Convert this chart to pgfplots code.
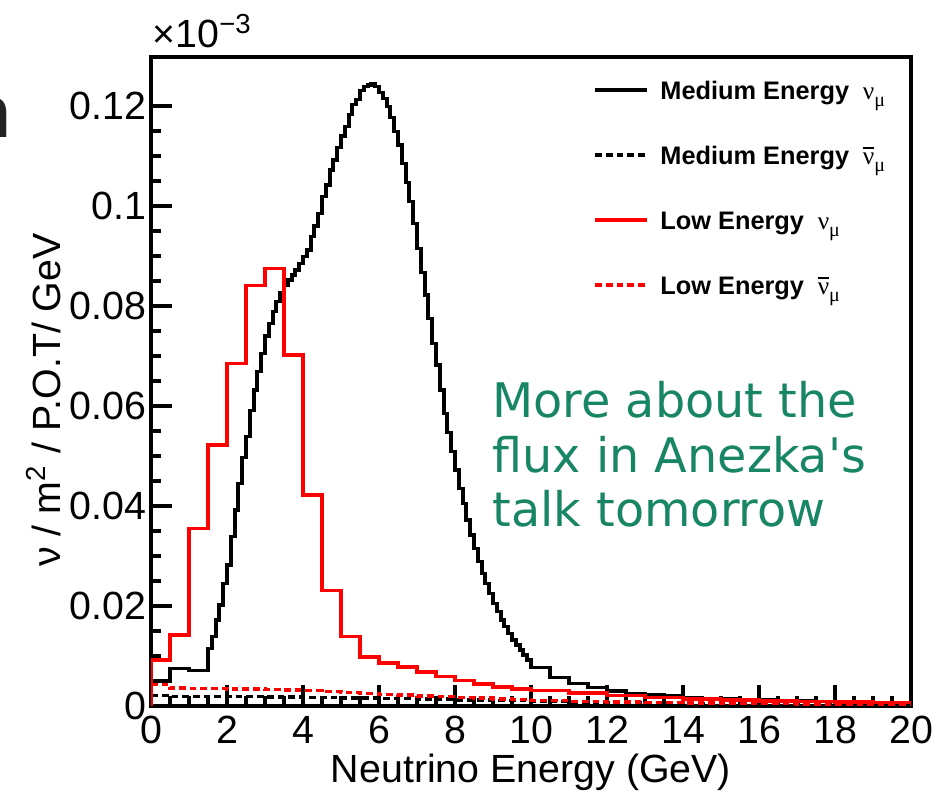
\documentclass[border=0pt]{standalone}
\usepackage{fontspec}
\setmainfont{Liberation Sans}
\newfontfamily\serif{Liberation Serif}
\newfontfamily\dejavu{DejaVu Sans}
\usepackage{pgfplots}
\pgfplotsset{compat=1.18}
\definecolor{notegreen}{RGB}{24,134,100}

\newcommand{\numu}{{\mdseries\serif ν}\raisebox{-2pt}{\fontsize{6}{6}\selectfont\mdseries\serif μ}}
\newcommand{\numubar}{{\mdseries\serif $\overline{\hbox{\serif ν}}$}\raisebox{-2pt}{\fontsize{6}{6}\selectfont\mdseries\serif μ}}

\begin{document}
\begin{tikzpicture}
\useasboundingbox (-45.3pt,-26.4pt) rectangle (237.6pt,211.8pt);
\clip (-45.3pt,-26.4pt) rectangle (237.6pt,211.8pt);
\begin{axis}[
  at={(0,0)}, anchor=south west,
  scale only axis,
  width=228pt, height=194.7pt,
  xmin=0, xmax=20, ymin=0, ymax=0.1298,
  xtick={0,2,...,20},
  ytick={0,0.02,0.04,0.06,0.08,0.1,0.12},
  yticklabels={0,0.02,0.04,0.06,0.08,0.1,0.12},
  scaled y ticks=false,
  minor x tick num=3, minor y tick num=3,
  xtick pos=bottom, ytick pos=left,
  tick align=inside,
  major tick length=6.2pt, minor tick length=3pt,
  every tick/.style={black, line width=1pt},
  axis line style={line width=1.1pt},
  /pgf/number format/assume math mode=true,
  tick label style={font=\fontsize{11.8}{14}\selectfont},
  yticklabel style={inner sep=1.3pt},
  xticklabel style={inner sep=2.8pt},
  legend image code/.code={\draw[#1] (0pt,0pt) -- (15.5pt,0pt);},
  legend style={at={(rel axis cs:0.582,0.9706)}, anchor=north west,
    draw=none, fill=none, inner sep=0pt, outer sep=0pt,
    row sep=11.1pt, column sep=3.5pt,
    font=\fontsize{7.6}{9}\selectfont\bfseries,
    nodes={inner sep=0pt, text height=7pt, text depth=1.4pt, anchor=west}},
]
% Medium energy nu_mu
\addplot[black, line width=1.15pt, const plot] coordinates {
(0,0) (0,0.0050) (0.5,0.0075) (1.0,0.0071)
(1.5,0.0115) (1.6,0.0139) (1.7,0.0172) (1.8,0.0202) (1.9,0.0245)
(2.0,0.0282) (2.1,0.0339) (2.2,0.0392) (2.3,0.0445) (2.4,0.0497)
(2.5,0.0539) (2.6,0.0591) (2.7,0.0632) (2.8,0.0669) (2.9,0.0705)
(3.0,0.0740) (3.1,0.0765) (3.2,0.0789) (3.3,0.0809) (3.4,0.0827)
(3.5,0.0842) (3.6,0.0852) (3.7,0.0862) (3.8,0.0872) (3.9,0.0885)
(4.0,0.0899) (4.1,0.0912) (4.2,0.0939) (4.3,0.0960) (4.4,0.0985)
(4.5,0.1019) (4.6,0.1042) (4.7,0.1072) (4.8,0.1092) (4.9,0.1117)
(5.0,0.1140) (5.1,0.1159) (5.2,0.1183) (5.3,0.1203) (5.4,0.1213)
(5.5,0.1231) (5.6,0.1239) (5.7,0.1242) (5.8,0.1244) (5.9,0.1239)
(6.0,0.1227) (6.1,0.1215) (6.2,0.1199) (6.3,0.1177) (6.4,0.1149)
(6.5,0.1122) (6.6,0.1085) (6.7,0.1047) (6.8,0.1009) (6.9,0.0965)
(7.0,0.0915) (7.1,0.0867) (7.2,0.0822) (7.3,0.0775) (7.4,0.0725)
(7.5,0.0682) (7.6,0.0632) (7.7,0.0585) (7.8,0.0547) (7.9,0.0509)
(8.0,0.0472) (8.1,0.0435) (8.2,0.0405) (8.3,0.0372) (8.4,0.0342)
(8.5,0.0315) (8.6,0.0289) (8.7,0.0265) (8.8,0.0245) (8.9,0.0225)
(9.0,0.0205) (9.1,0.0189) (9.2,0.0172) (9.3,0.0159) (9.4,0.0145)
(9.5,0.0132) (9.6,0.0122) (9.7,0.0112) (9.8,0.0102) (9.9,0.0092)
(10.0,0.0077) (10.5,0.0057) (11.0,0.0045) (11.5,0.0037) (12.0,0.0030)
(12.5,0.0025) (13.0,0.0022) (13.5,0.0020) (14.0,0.0017) (14.5,0.0015)
(15.0,0.0014) (15.5,0.0013) (16.0,0.0012) (16.5,0.0011) (17.0,0.0010)
(17.5,0.0009) (18.0,0.0008) (18.5,0.0007) (19.0,0.0007) (19.5,0.0006)
(20,0.0006)
};
\addlegendentry{Medium Energy\hspace{2pt} \numu}
% Medium energy anti-nu_mu
\addplot[black, line width=1.15pt, dash pattern=on 2pt off 1.2pt, const plot] coordinates {
(0,0) (0,0.0021) (0.5,0.0019) (1,0.0019) (2,0.0019) (3,0.0018) (4,0.0017)
(5,0.0016) (6,0.0015) (7,0.0014) (8,0.0012) (9,0.0011) (10,0.0009)
(11,0.0008) (12,0.0007) (13,0.0006) (14,0.0005) (15,0.0004) (16,0.0004)
(17,0.0003) (18,0.0003) (19,0.0003) (20,0.0003)
};
\addlegendentry{Medium Energy\hspace{2pt} \numubar}
% Low energy nu_mu
\addplot[red, line width=1.15pt, const plot] coordinates {
(0,0) (0,0.0092) (0.5,0.0142) (1,0.0355) (1.5,0.0522) (2,0.0685) (2.5,0.0841)
(3,0.0875) (3.5,0.0702) (4,0.0422) (4.5,0.0231) (5,0.0139) (5.5,0.0098)
(6,0.0086) (6.5,0.0078) (7,0.0068) (7.5,0.0059) (8,0.0051) (8.5,0.0044)
(9,0.0038) (9.5,0.0034) (10,0.0031) (11,0.0026) (12,0.0021) (13,0.0017)
(14,0.0014) (15,0.0012) (16,0.0010) (17,0.0009) (18,0.0008) (19,0.0007)
(20,0.0007)
};
\addlegendentry{Low Energy\hspace{2pt} \numu}
% Low energy anti-nu_mu
\addplot[red, line width=1.15pt, dash pattern=on 2pt off 1.2pt, const plot] coordinates {
(0,0) (0,0.0043) (0.5,0.0036) (1,0.0035) (1.5,0.0035) (2,0.0034) (2.5,0.0034)
(3,0.0033) (3.5,0.0032) (4,0.0031) (4.5,0.0029) (5,0.0027) (5.5,0.0025)
(6,0.0023) (6.5,0.0022) (7,0.0020) (7.5,0.0019) (8,0.0017) (8.5,0.0016)
(9,0.0014) (9.5,0.0013) (10,0.0011) (11,0.0009) (12,0.0008) (13,0.0007)
(14,0.0006) (15,0.0005) (16,0.0005) (17,0.0004) (18,0.0004) (19,0.0003)
(20,0.0003)
};
\addlegendentry{Low Energy\hspace{2pt} \numubar}
\end{axis}

% axis titles
\node[anchor=base, font=\fontsize{11.8}{14}\selectfont] at (114pt,-22.8pt) {Neutrino Energy (GeV)};
\node[anchor=base, rotate=90, font=\fontsize{11.8}{14}\selectfont] at (-27.3pt,91.8pt)
  {ν / m\textsuperscript{2} / P.O.T/ GeV};
\node[anchor=base west, inner sep=0pt, font=\fontsize{11.8}{14}\selectfont] at (0.3pt,197.4pt)
  {×10\textsuperscript{−3}};

% slide annotation
\node[anchor=base west, inner sep=0pt, text=notegreen, font=\dejavu\fontsize{14.3}{16.5}\selectfont] at (102.3pt,86.7pt) {More about the};
\node[anchor=base west, inner sep=0pt, text=notegreen, font=\dejavu\fontsize{14.3}{16.5}\selectfont] at (102.3pt,70.2pt) {flux in Anezka's};
\node[anchor=base west, inner sep=0pt, text=notegreen, font=\dejavu\fontsize{14.3}{16.5}\selectfont] at (102.3pt,54.0pt) {talk tomorrow};

% cut-off letter from the slide edge
\node[anchor=base east, inner sep=0pt, text={rgb,255:red,34;green,34;blue,34}, font=\fontsize{22}{22}\selectfont\bfseries] at (-41.7pt,170.4pt) {n};
\end{tikzpicture}
\end{document}
